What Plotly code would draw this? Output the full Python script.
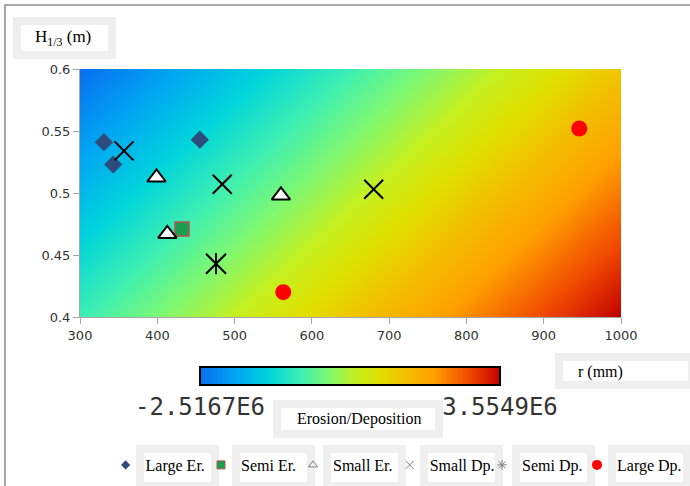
import plotly.graph_objects as go

# ---------------- data ----------------
large_er_x = [331, 343, 455]
large_er_y = [0.541, 0.523, 0.543]
semi_er_x = [432]
semi_er_y = [0.471]
small_er_x = [399, 413, 560]
small_er_y = [0.5125, 0.467, 0.498]
small_dp_x = [357, 484, 680]
small_dp_y = [0.534, 0.507, 0.503]
semi_dp_x = [476]
semi_dp_y = [0.443]
large_dp_x = [563, 946]
large_dp_y = [0.42, 0.552]

field_x = [300, 1000]
field_y = [0.4, 0.6]
field_z = [[-0.51e6, 3.5549e6],
           [-2.5167e6, 1.55e6]]
z_min = -2.5167e6
z_max = 3.5549e6
cbar_ticktext = ["-2.5167E6", "3.5549E6"]

x_ticks = [300, 400, 500, 600, 700, 800, 900, 1000]
y_ticks = [0.4, 0.45, 0.5, 0.55, 0.6]

legend_names = ["Large Er.", "Semi Er.", "Small Er.", "Small Dp.", "Semi Dp.", "Large Dp."]

# ---------------- layout helpers (pixel -> paper) ----------------
L, R, T, B = 80, 69, 69, 169
W, H = 690, 486
PW, PH = W - L - R, H - T - B


def px(x):
    return (x - L) / PW


def py(y):
    return (H - B - y) / PH


colorscale = [
    [0.0, "#0A6EF0"],
    [0.12, "#00A6F2"],
    [0.23, "#00D4DC"],
    [0.34, "#40F0B0"],
    [0.43, "#80F870"],
    [0.52, "#C4F020"],
    [0.6, "#E0E000"],
    [0.68, "#F2C000"],
    [0.78, "#FFA000"],
    [0.9, "#F04800"],
    [1.0, "#C00000"],
]

fig = go.Figure()

fig.add_trace(go.Heatmap(
    x=field_x, y=field_y, z=field_z, zsmooth="best",
    zmin=z_min, zmax=z_max, colorscale=colorscale, hoverinfo="skip",
    colorbar=dict(
        orientation="h", x=px(350), xanchor="center", y=py(367), yanchor="top",
        len=300, lenmode="pixels", thickness=18, xpad=0, ypad=0,
        outlinewidth=2, outlinecolor="black",
        tickvals=[z_min, z_max], ticktext=cbar_ticktext, ticks="",
        tickfont=dict(family="DejaVu Sans Mono", size=24, color="#333333"),
    ),
    showlegend=False,
))

# plotted markers
fig.add_trace(go.Scatter(x=large_er_x, y=large_er_y, mode="markers", showlegend=False,
                         marker=dict(symbol="diamond", size=14, color="#2E4B7E", line=dict(width=0))))
fig.add_trace(go.Scatter(x=semi_er_x, y=semi_er_y, mode="markers", showlegend=False,
                         marker=dict(symbol="square", size=14, color="#16A050",
                                     line=dict(color="#C0504D", width=1.5))))
fig.add_trace(go.Scatter(x=small_er_x, y=small_er_y, mode="markers", showlegend=False,
                         marker=dict(symbol="triangle-up", size=16, color="white",
                                     line=dict(color="black", width=2))))
fig.add_trace(go.Scatter(x=small_dp_x, y=small_dp_y, mode="markers", showlegend=False,
                         marker=dict(symbol="x-thin", size=19, color="black",
                                     line=dict(color="black", width=2))))
fig.add_trace(go.Scatter(x=semi_dp_x, y=semi_dp_y, mode="markers", showlegend=False,
                         marker=dict(symbol="x-thin", size=20, color="black",
                                     line=dict(color="black", width=2))))
fig.add_trace(go.Scatter(x=semi_dp_x, y=semi_dp_y, mode="markers", showlegend=False,
                         marker=dict(symbol="line-ns", size=15, color="black",
                                     line=dict(color="black", width=2))))
fig.add_trace(go.Scatter(x=large_dp_x, y=large_dp_y, mode="markers", showlegend=False,
                         marker=dict(symbol="circle", size=16, color="#FF0000", line=dict(width=0))))

# legend entries (small symbols like the reference)
legend_styles = [
    dict(symbol="diamond", size=7, color="#2E4B7E", line=dict(width=0)),
    dict(symbol="square", size=8, color="#16A050", line=dict(color="#C0504D", width=1)),
    dict(symbol="triangle-up-open", size=8, color="#808080", line=dict(color="#808080", width=1)),
    dict(symbol="x-thin", size=8, color="#808080", line=dict(color="#808080", width=1)),
    dict(symbol="asterisk", size=8, color="#808080", line=dict(color="#808080", width=1)),
    dict(symbol="circle", size=10, color="#FF0000", line=dict(width=0)),
]
text_starts = [143.6, 239, 331, 427.7, 520, 615]
legend_layouts = {}
for i, (name, st, ts) in enumerate(zip(legend_names, legend_styles, text_starts)):
    key = "legend" if i == 0 else f"legend{i + 1}"
    fig.add_trace(go.Scatter(x=[None], y=[None], mode="markers", name=name,
                             marker=st, legend=key, showlegend=True))
    legend_layouts[key] = dict(
        x=px(ts - 38), xanchor="left", y=py(465), yanchor="middle",
        orientation="h", bgcolor="rgba(0,0,0,0)", borderwidth=0,
        font=dict(family="Liberation Serif", size=16, color="black"),
        itemwidth=30,
    )

# grey label boxes
shapes = []


def box(x0, y0, x1, y1):
    # outer pixel bounds; border 8 px light grey, white inside
    shapes.append(dict(type="rect", xref="paper", yref="paper",
                       x0=px(x0 + 4), x1=px(x1 - 4), y0=py(y0 + 4), y1=py(y1 - 4),
                       line=dict(color="#EFEFEF", width=8), fillcolor="white", layer="above"))


box(13, 17, 116, 59)        # H1/3 box
box(555, 353, 696, 389)     # r (mm) box
box(273, 400, 443, 438)     # Erosion/Deposition box
for bx in [136, 232, 323, 420, 512, 608]:
    box(bx, 445, bx + 83, 490)

# outer frame
shapes.append(dict(type="rect", xref="paper", yref="paper",
                   x0=px(5), x1=px(720), y0=py(5), y1=py(520),
                   line=dict(color="#8C8C8C", width=1.5), fillcolor="rgba(0,0,0,0)", layer="above"))

annotations = [
    dict(text="H<sub>1/3</sub> (m)", x=px(63), y=py(38)),
    dict(text="r (mm)", x=px(600), y=py(372)),
    dict(text="Erosion/Deposition", x=px(359), y=py(419)),
]
for a in annotations:
    a.update(xref="paper", yref="paper", xanchor="center", yanchor="middle", showarrow=False,
             font=dict(family="Liberation Serif", size=16, color="black"))
annotations[0]["font"]["size"] = 17

axis_font = dict(family="DejaVu Sans", size=13, color="#333333")
fig.update_layout(
    width=W, height=H,
    margin=dict(l=L, r=R, t=T, b=B, pad=0, autoexpand=False),
    paper_bgcolor="white", plot_bgcolor="white",
    xaxis=dict(range=[300, 1000], tickvals=x_ticks, showgrid=False, zeroline=False,
               showline=True, linecolor="#A6A6A6", linewidth=1, ticks="outside", ticklen=6,
               tickcolor="#A6A6A6", tickfont=axis_font),
    yaxis=dict(range=[0.4, 0.6], tickvals=y_ticks, showgrid=False, zeroline=False,
               showline=True, linecolor="#A6A6A6", linewidth=1, ticks="outside", ticklen=6,
               tickcolor="#A6A6A6", tickfont=axis_font),
    shapes=shapes,
    annotations=annotations,
    **legend_layouts,
)

fig.write_html("out.html",
               config={"displayModeBar": False},
               post_script="document.body.style.margin='0';document.body.style.overflow='hidden';")
